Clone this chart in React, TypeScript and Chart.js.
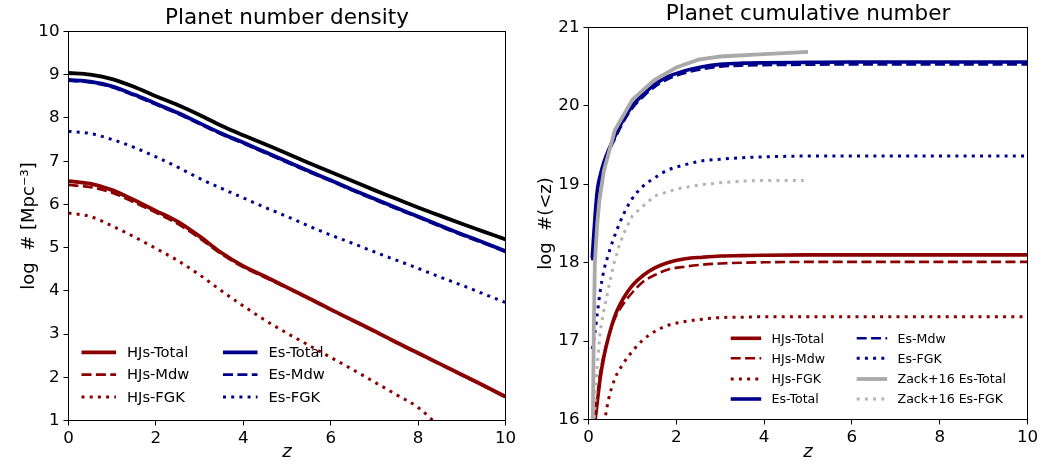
import React, { useEffect, useRef } from 'react';
import { Chart, registerables } from 'chart.js';

Chart.register(...registerables);

const FONT = "'DejaVu Sans', 'Liberation Sans', sans-serif";
const RED = '#8b0000';
const BLUE = '#00008b';
const BLACK = '#000000';
const GRAY = '#a9a9a9';
const GRAY_DOT = '#b4b4b4';

// ---------- Left panel: planet number density ----------
const zDensity = [0, 0.5, 1, 1.5, 2, 2.5, 3, 3.5, 4, 4.5, 5, 5.5, 6, 6.5, 7, 7.5, 8, 8.5, 9, 9.5, 10];
const densityAll = [9.04, 9.0, 8.9, 8.72, 8.5, 8.3, 8.07, 7.82, 7.6, 7.39, 7.18, 6.96, 6.75, 6.54, 6.33, 6.13, 5.93, 5.74, 5.55, 5.37, 5.19];
const densityHJsTotal = [6.54, 6.48, 6.33, 6.1, 5.85, 5.6, 5.26, 4.88, 4.57, 4.33, 4.08, 3.83, 3.57, 3.32, 3.07, 2.81, 2.56, 2.31, 2.06, 1.81, 1.55];
const densityHJsMdw = [6.45, 6.4, 6.27, 6.05, 5.81, 5.55, 5.22, 4.85, 4.55, 4.31, 4.07, 3.82, 3.56, 3.31, 3.06, 2.8, 2.55, 2.3, 2.05, 1.8, 1.54];
const densityHJsFGK = [5.8, 5.72, 5.5, 5.25, 4.98, 4.7, 4.37, 4.0, 3.65, 3.32, 3.02, 2.74, 2.46, 2.18, 1.89, 1.6, 1.3, 0.85, 0.4, -0.05, -0.5];
const densityEsTotal = [8.88, 8.84, 8.73, 8.54, 8.33, 8.12, 7.88, 7.64, 7.43, 7.21, 6.99, 6.77, 6.56, 6.34, 6.13, 5.92, 5.72, 5.51, 5.31, 5.12, 4.92];
const densityEsMdw = [8.86, 8.82, 8.71, 8.52, 8.31, 8.1, 7.86, 7.62, 7.41, 7.19, 6.97, 6.75, 6.54, 6.32, 6.11, 5.9, 5.7, 5.49, 5.29, 5.1, 4.9];
const densityEsFGK = [7.69, 7.64, 7.5, 7.32, 7.1, 6.86, 6.6, 6.37, 6.15, 5.93, 5.72, 5.5, 5.29, 5.1, 4.9, 4.71, 4.52, 4.32, 4.13, 3.93, 3.73];

// ---------- Right panel: planet cumulative number ----------
const zCum = [0.085, 0.15, 0.2, 0.27, 0.35, 0.45, 0.6, 0.8, 1.0, 1.25, 1.5, 1.8, 2.2, 2.6, 3.0, 3.5, 4, 5, 6, 7, 8, 9, 10];
const cumHJsTotal = [15.5, 15.98, 16.22, 16.54, 16.8, 17.04, 17.32, 17.55, 17.71, 17.84, 17.93, 18.0, 18.05, 18.07, 18.085, 18.09, 18.095, 18.1, 18.1, 18.1, 18.1, 18.1, 18.1];
const cumHJsMdw = [15.6, 16.05, 16.3, 16.6, 16.83, 17.04, 17.29, 17.48, 17.62, 17.76, 17.84, 17.91, 17.95, 17.975, 17.99, 18.0, 18.005, 18.01, 18.01, 18.01, 18.01, 18.01, 18.01];
const cumHJsFGK = [14.6, 15.1, 15.4, 15.65, 15.92, 16.24, 16.52, 16.72, 16.87, 17.02, 17.12, 17.2, 17.25, 17.28, 17.3, 17.305, 17.31, 17.31, 17.31, 17.31, 17.31, 17.31, 17.31];
const cumEsTotal = [18.06, 18.6, 18.92, 19.12, 19.28, 19.43, 19.61, 19.83, 20.0, 20.15, 20.27, 20.37, 20.45, 20.5, 20.53, 20.545, 20.55, 20.555, 20.56, 20.56, 20.56, 20.56, 20.56];
const cumEsMdw = [18.03, 18.57, 18.89, 19.09, 19.25, 19.4, 19.58, 19.8, 19.97, 20.12, 20.24, 20.34, 20.42, 20.47, 20.5, 20.515, 20.52, 20.525, 20.53, 20.53, 20.53, 20.53, 20.53];
const cumEsFGK = [16.9, 17.12, 17.35, 17.65, 17.9, 18.1, 18.35, 18.62, 18.82, 18.98, 19.08, 19.18, 19.25, 19.3, 19.32, 19.34, 19.35, 19.36, 19.36, 19.36, 19.36, 19.36, 19.36];
const zZackTotal = [0.09, 0.1, 0.12, 0.145, 0.2, 0.25, 0.35, 0.6, 1.0, 1.5, 2.0, 2.5, 3.0, 4.0, 5.0];
const cumZackTotal = [15.4, 16.0, 17.1, 18.0, 18.5, 18.8, 19.17, 19.69, 20.08, 20.33, 20.49, 20.59, 20.63, 20.66, 20.69];
const zZackFGK = [0.1, 0.13, 0.2, 0.27, 0.35, 0.46, 0.58, 0.69, 0.8, 1.0, 1.5, 2.0, 2.5, 3.0, 3.5, 4.0, 4.9];
const cumZackFGK = [15.6, 16.0, 16.71, 17.14, 17.39, 17.69, 17.99, 18.2, 18.37, 18.6, 18.85, 18.94, 18.99, 19.02, 19.04, 19.05, 19.05];

const SOLID: number[] = [];
const DASHED = [10, 4.4];
const DOTTED = [3, 5.2];

type Series = { label: string; xs: number[]; ys: number[]; color: string; width: number; dash: number[]; smooth: boolean };

const leftSeries: Series[] = [
  { label: 'HJs-Total', xs: zDensity, ys: densityHJsTotal, color: RED, width: 3.8, dash: SOLID, smooth: true },
  { label: 'HJs-Mdw', xs: zDensity, ys: densityHJsMdw, color: RED, width: 2.7, dash: DASHED, smooth: true },
  { label: 'HJs-FGK', xs: zDensity, ys: densityHJsFGK, color: RED, width: 3, dash: DOTTED, smooth: true },
  { label: 'Es-Total', xs: zDensity, ys: densityEsTotal, color: BLUE, width: 3.8, dash: SOLID, smooth: true },
  { label: 'Es-Mdw', xs: zDensity, ys: densityEsMdw, color: BLUE, width: 2.7, dash: DASHED, smooth: true },
  { label: 'Es-FGK', xs: zDensity, ys: densityEsFGK, color: BLUE, width: 3, dash: DOTTED, smooth: true },
  { label: 'Total', xs: zDensity, ys: densityAll, color: BLACK, width: 3.8, dash: SOLID, smooth: true },
];

const rightSeries: Series[] = [
  { label: 'HJs-Total', xs: zCum, ys: cumHJsTotal, color: RED, width: 3.6, dash: SOLID, smooth: true },
  { label: 'HJs-Mdw', xs: zCum, ys: cumHJsMdw, color: RED, width: 2.6, dash: DASHED, smooth: true },
  { label: 'HJs-FGK', xs: zCum, ys: cumHJsFGK, color: RED, width: 3, dash: DOTTED, smooth: true },
  { label: 'Es-Total', xs: zCum, ys: cumEsTotal, color: BLUE, width: 3.6, dash: SOLID, smooth: true },
  { label: 'Es-Mdw', xs: zCum, ys: cumEsMdw, color: BLUE, width: 2.6, dash: DASHED, smooth: true },
  { label: 'Es-FGK', xs: zCum, ys: cumEsFGK, color: BLUE, width: 3, dash: DOTTED, smooth: true },
  { label: 'Zack+16 Es-Total', xs: zZackTotal, ys: cumZackTotal, color: GRAY, width: 3.8, dash: SOLID, smooth: false },
  { label: 'Zack+16 Es-FGK', xs: zZackFGK, ys: cumZackFGK, color: GRAY_DOT, width: 3, dash: DOTTED, smooth: false },
];

const leftLegendColumns = [
  ['HJs-Total', 'HJs-Mdw', 'HJs-FGK'],
  ['Es-Total', 'Es-Mdw', 'Es-FGK'],
];
const rightLegendColumns = [
  ['HJs-Total', 'HJs-Mdw', 'HJs-FGK', 'Es-Total'],
  ['Es-Mdw', 'Es-FGK', 'Zack+16 Es-Total', 'Zack+16 Es-FGK'],
];

function makeDatasets(series: Series[]) {
  return series.map((s, i) => ({
    label: s.label,
    data: s.xs.map((x, j) => ({ x, y: s.ys[j] })),
    borderColor: s.color,
    backgroundColor: s.color,
    borderWidth: s.width,
    borderDash: s.dash,
    borderCapStyle: 'butt',
    pointRadius: 0,
    pointHoverRadius: 0,
    fill: false,
    tension: 0,
    cubicInterpolationMode: s.smooth ? 'monotone' : 'default',
    order: series.length - i,
    clip: 0,
  }));
}

const framePlugin = {
  id: 'frameBox',
  afterDatasetsDraw(chart: any) {
    const { ctx, chartArea: a } = chart;
    ctx.save();
    ctx.strokeStyle = '#000';
    ctx.lineWidth = 1;
    ctx.setLineDash([]);
    ctx.strokeRect(a.left, a.top, a.right - a.left, a.bottom - a.top);
    ctx.restore();
  },
};

type LegendCfg = {
  columns: string[][];
  colX: number[];
  rowsFromBottom: number[];
  lineLen: number;
  textGap: number;
  fontSize: number;
};

function makeLegendPlugin(cfg: LegendCfg) {
  return {
    id: 'mplLegend',
    afterDatasetsDraw(chart: any) {
      const { ctx, chartArea: a } = chart;
      const ds = chart.data.datasets as any[];
      ctx.save();
      ctx.font = `${cfg.fontSize}px ${FONT}`;
      ctx.textBaseline = 'middle';
      ctx.textAlign = 'left';
      cfg.columns.forEach((col, ci) => {
        col.forEach((label, ri) => {
          const d = ds.find((x) => x.label === label);
          if (!d) return;
          const x0 = a.left + cfg.colX[ci];
          const y = a.bottom - cfg.rowsFromBottom[ri];
          ctx.beginPath();
          ctx.setLineDash(d.borderDash || []);
          ctx.lineCap = 'butt';
          ctx.lineWidth = d.borderWidth;
          ctx.strokeStyle = d.borderColor;
          ctx.moveTo(x0, y);
          ctx.lineTo(x0 + cfg.lineLen, y);
          ctx.stroke();
          ctx.setLineDash([]);
          ctx.fillStyle = '#000';
          ctx.fillText(label, x0 + cfg.lineLen + cfg.textGap, y + 1);
        });
      });
      ctx.restore();
    },
  };
}

type PanelCfg = {
  title: string;
  titlePadTop: number;
  series: Series[];
  ymin: number;
  ymax: number;
  yTitle: string;
  yTitlePad: number;
  yWidth: number;
  xHeight: number;
  padRight: number;
  legend: LegendCfg;
};

function buildConfig(p: PanelCfg): any {
  const tickFont = { family: FONT, size: 16.7 };
  return {
    type: 'line',
    data: { datasets: makeDatasets(p.series) },
    options: {
      animation: false,
      responsive: false,
      maintainAspectRatio: false,
      events: [],
      layout: { padding: { left: 0, right: p.padRight, top: 0, bottom: 0 } },
      plugins: {
        legend: { display: false },
        tooltip: { enabled: false },
        title: {
          display: true,
          text: p.title,
          color: '#000',
          fullSize: false,
          font: { family: FONT, size: 21.5, weight: 'normal', lineHeight: 1.2 },
          padding: { top: p.titlePadTop, bottom: 0 },
        },
      },
      scales: {
        x: {
          type: 'linear',
          min: 0,
          max: 10,
          afterFit: (s: any) => { s.height = p.xHeight; },
          ticks: { stepSize: 2, color: '#000', font: tickFont, padding: 3, maxRotation: 0, autoSkip: false },
          grid: { drawOnChartArea: false, drawTicks: true, tickLength: 5, color: '#000', tickColor: '#000', lineWidth: 1 },
          border: { display: true, color: '#000', width: 1 },
          title: {
            display: true,
            text: 'z',
            color: '#000',
            font: { family: FONT, size: 18, style: 'italic', lineHeight: 1.2 },
            padding: { top: 0, bottom: 1.5 },
          },
        },
        y: {
          type: 'linear',
          min: p.ymin,
          max: p.ymax,
          afterFit: (s: any) => { s.width = p.yWidth; },
          ticks: { stepSize: 1, color: '#000', font: tickFont, padding: 4, autoSkip: false },
          grid: { drawOnChartArea: false, drawTicks: true, tickLength: 5, color: '#000', tickColor: '#000', lineWidth: 1 },
          border: { display: true, color: '#000', width: 1 },
          title: {
            display: true,
            text: p.yTitle,
            color: '#000',
            font: { family: FONT, size: 18, lineHeight: 1.2 },
            padding: { top: p.yTitlePad, bottom: 0 },
          },
        },
      },
    },
    plugins: [framePlugin, makeLegendPlugin(p.legend)],
  };
}

const leftPanel: PanelCfg = {
  title: 'Planet number density',
  titlePadTop: 5.7,
  series: leftSeries,
  ymin: 1,
  ymax: 10,
  yTitle: 'log  # [Mpc⁻³]',
  yTitlePad: 18.2,
  yWidth: 68.5,
  xHeight: 44.5,
  padRight: 24.5,
  legend: {
    columns: leftLegendColumns,
    colX: [13, 154.5],
    rowsFromBottom: [68.2, 45.9, 23.4],
    lineLen: 34.5,
    textGap: 11,
    fontSize: 14.7,
  },
};

const rightPanel: PanelCfg = {
  title: 'Planet cumulative number',
  titlePadTop: 1.7,
  series: rightSeries,
  ymin: 16,
  ymax: 21,
  yTitle: 'log  #(<z)',
  yTitlePad: 5.2,
  yWidth: 58.5,
  xHeight: 45.5,
  padRight: 33.5,
  legend: {
    columns: rightLegendColumns,
    colX: [142.2, 268.2],
    rowsFromBottom: [81.2, 61.2, 40.5, 20.5],
    lineLen: 30.5,
    textGap: 10.3,
    fontSize: 12.6,
  },
};

function Panel({ cfg, left, width }: { cfg: PanelCfg; left: number; width: number }) {
  const ref = useRef<HTMLCanvasElement>(null);
  useEffect(() => {
    if (!ref.current) return;
    const chart = new Chart(ref.current, buildConfig(cfg));
    return () => chart.destroy();
  }, [cfg]);
  return (
    <canvas
      ref={ref}
      width={width}
      height={465}
      style={{ position: 'absolute', left, top: 0, width, height: 465 }}
    />
  );
}

export default function App() {
  return (
    <div style={{ position: 'fixed', left: 0, top: 0, width: 1061, height: 465, background: '#fff', overflow: 'hidden' }}>
      <Panel cfg={leftPanel} left={0} width={530} />
      <Panel cfg={rightPanel} left={530} width={531} />
    </div>
  );
}
